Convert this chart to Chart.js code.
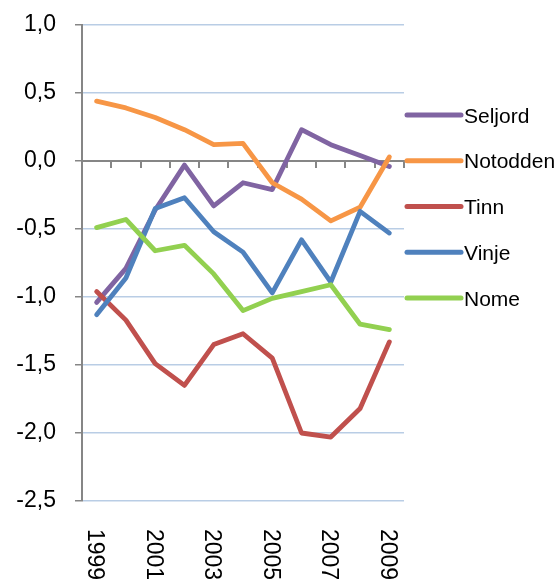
<!DOCTYPE html>
<html><head><meta charset="utf-8">
<script src="https://cdn.jsdelivr.net/npm/chart.js@4/dist/chart.umd.min.js"></script>
<style>html,body{margin:0;padding:0;background:#fff}</style>
</head><body>
<canvas id="c" width="556" height="583"></canvas>
<script>
const years = ['1999','2000','2001','2002','2003','2004','2005','2006','2007','2008','2009'];
const seriesNames = ['Seljord','Notodden','Tinn','Vinje','Nome'];
const seljord  = [-1.04,-0.79,-0.36,-0.03,-0.33,-0.16,-0.21,0.23,0.12,0.04,-0.04];
const notodden = [0.44,0.39,0.32,0.23,0.12,0.13,-0.16,-0.28,-0.44,-0.34,0.03];
const tinn     = [-0.96,-1.17,-1.49,-1.65,-1.35,-1.27,-1.45,-2.00,-2.03,-1.82,-1.33];
const vinje    = [-1.13,-0.86,-0.35,-0.27,-0.52,-0.67,-0.97,-0.58,-0.89,-0.37,-0.53];
const nome     = [-0.49,-0.43,-0.66,-0.62,-0.83,-1.10,-1.01,-0.96,-0.91,-1.20,-1.24];
const seriesValues = [seljord, notodden, tinn, vinje, nome];
const seriesColors = ['#8064a2','#f79646','#c0504d','#4f81bd','#92d050'];
const yMin = -2.5, yMax = 1.0, yStep = 0.5;

const FONT = '"Liberation Sans", Arial, sans-serif';

const extras = {
  id: 'extras',
  afterDraw(chart) {
    const ctx = chart.ctx, xs = chart.scales.x, area = chart.chartArea;
    ctx.save();
    ctx.fillStyle = '#000';
    ctx.font = '23px ' + FONT;
    ctx.textAlign = 'left';
    ctx.textBaseline = 'middle';
    years.forEach((lab, i) => {
      if (i % 2) return;
      const x = xs.getPixelForValue(i);
      ctx.save();
      ctx.translate(x - 2, area.bottom + 28);
      ctx.rotate(Math.PI / 2);
      ctx.fillText(lab, 0, 0);
      ctx.restore();
    });
    // legend
    ctx.font = '21px ' + FONT;
    ctx.textBaseline = 'alphabetic';
    seriesNames.forEach((name, i) => {
      const y = 115 + i * 45.75;
      ctx.beginPath();
      ctx.strokeStyle = seriesColors[i];
      ctx.lineWidth = 5;
      ctx.lineCap = 'round';
      ctx.moveTo(area.right + 3, y);
      ctx.lineTo(area.right + 57, y);
      ctx.stroke();
      ctx.fillText(name, area.right + 60, y + 7.5);
    });
    ctx.restore();
  }
};

new Chart(document.getElementById('c'), {
  type: 'line',
  data: {
    labels: years,
    datasets: seriesNames.map((n, i) => ({
      label: n,
      data: seriesValues[i],
      borderColor: seriesColors[i],
      backgroundColor: seriesColors[i],
      borderWidth: 4.8,
      pointRadius: 0,
      tension: 0,
      fill: false,
      borderCapStyle: 'round',
      borderJoinStyle: 'round',
      order: 10 - i
    }))
  },
  options: {
    responsive: false,
    animation: false,
    layout: { padding: { left: 0, right: 152, top: 25, bottom: 82 } },
    plugins: { legend: { display: false }, tooltip: { enabled: false } },
    scales: {
      x: {
        type: 'category',
        position: { y: 0 },
        offset: true,
        grid: { display: true, drawOnChartArea: false, drawTicks: true, tickLength: 6, offset: true, color: '#868686', lineWidth: 2 },
        border: { display: true, color: '#868686', width: 2 },
        ticks: { display: false }
      },
      y: {
        min: yMin, max: yMax,
        afterFit(scale) { scale.paddingTop = 0; scale.paddingBottom = 0; scale.width = 82; },
        ticks: {
          stepSize: yStep,
          color: '#000',
          font: { family: FONT, size: 23 },
          padding: 19,
          callback: v => v.toFixed(1).replace('.', ',')
        },
        grid: { color: '#b9cde5', lineWidth: 1.5, tickColor: '#868686', tickLength: 7 },
        border: { display: true, color: '#868686', width: 2 }
      }
    }
  },
  plugins: [extras]
});
</script>
</body></html>
